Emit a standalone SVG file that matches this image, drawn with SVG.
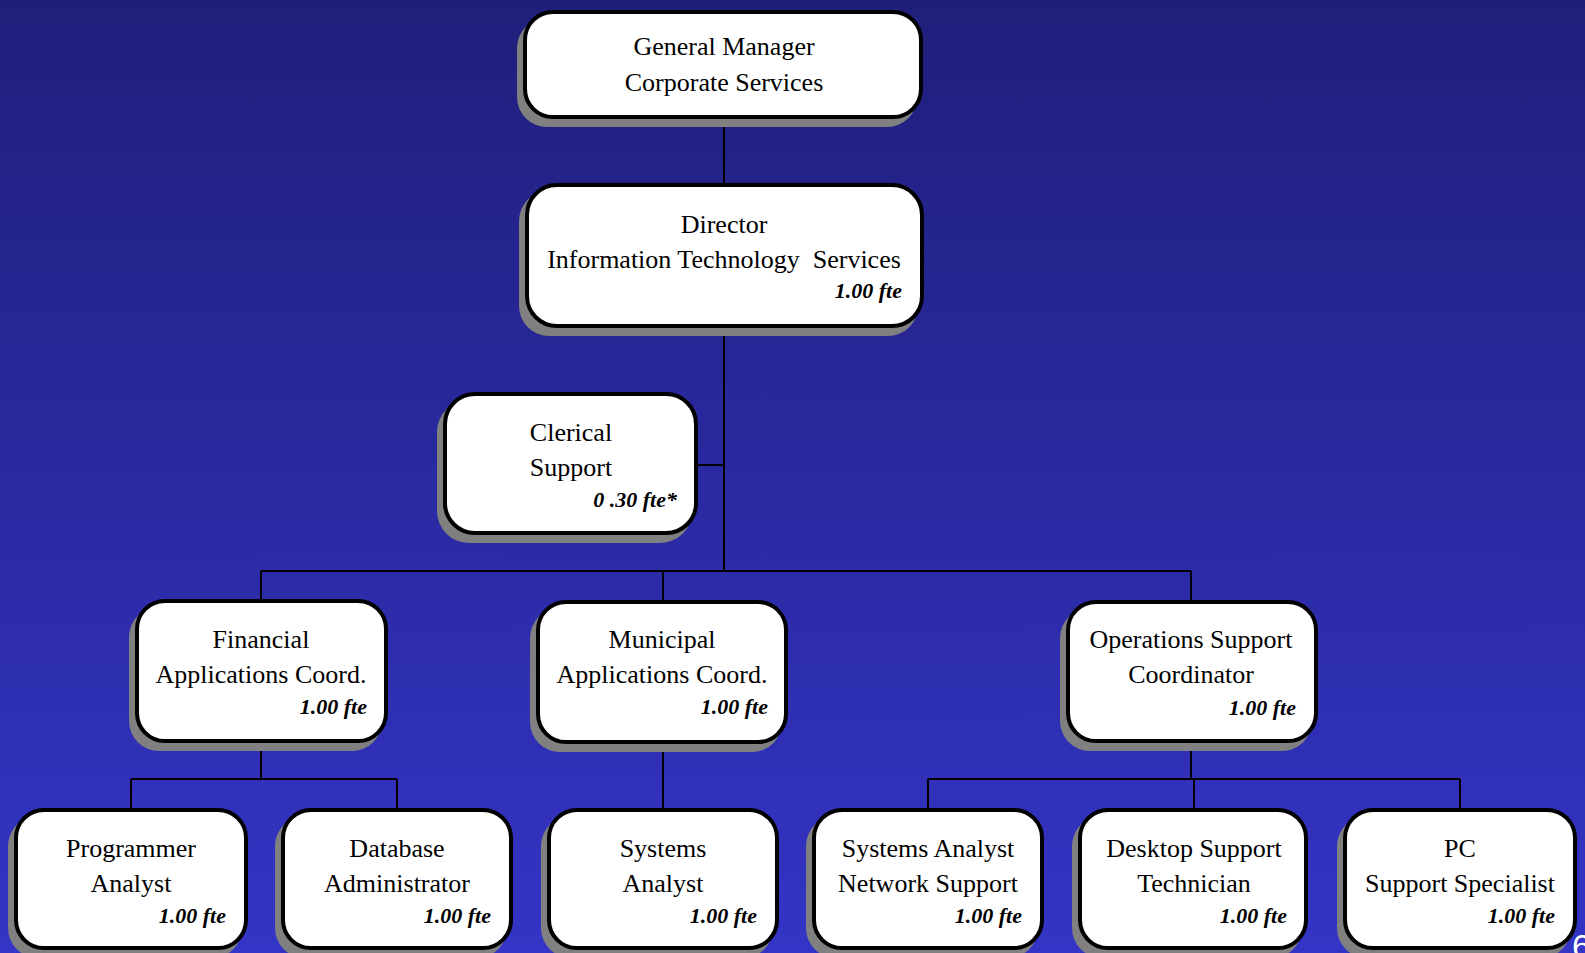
<svg xmlns="http://www.w3.org/2000/svg" width="1585" height="953" viewBox="0 0 1585 953">
<defs>
<linearGradient id="bg" x1="0" y1="0" x2="0" y2="1">
<stop offset="0" stop-color="#1f1f7b"/>
<stop offset="1" stop-color="#3434c6"/>
</linearGradient>
<style>
.sh{fill:#808080;}
.bx{fill:#ffffff;stroke:#000000;stroke-width:4;}
.t{font-family:"Liberation Serif","Times New Roman",serif;font-size:26px;fill:#000;text-anchor:middle;}
.f{font-family:"Liberation Serif","Times New Roman",serif;font-size:22px;font-weight:bold;font-style:italic;fill:#000;text-anchor:end;}
.c{stroke:#000;stroke-width:2;fill:none;}
</style>
</defs>
<rect x="0" y="0" width="1585" height="953" fill="url(#bg)"/>

<g id="connectors">
<path class="c" d="M724 119V183"/>
<path class="c" d="M724 328V571"/>
<path class="c" d="M698 465H724"/>
<path class="c" d="M261 571H1191"/>
<path class="c" d="M261 571V599M663 571V600M1191 571V600"/>
<path class="c" d="M261 743V779M131 779H397M131 779V808M397 779V808"/>
<path class="c" d="M663 744V808"/>
<path class="c" d="M1191 743V779M928 779H1460M928 779V808M1194 779V808M1460 779V808"/>
</g>

<g id="gm">
<rect class="sh" x="517" y="18" width="400" height="109" rx="30"/>
<rect class="bx" x="525" y="12" width="396" height="105" rx="28"/>
<text class="t" x="724" y="55">General Manager</text>
<text class="t" x="724" y="91">Corporate Services</text>
</g>

<g id="director">
<rect class="sh" x="519" y="191" width="399" height="145" rx="30"/>
<rect class="bx" x="527" y="185" width="395" height="141" rx="30"/>
<text class="t" x="724" y="233">Director</text>
<text class="t" x="724" y="268" xml:space="preserve">Information Technology  Services</text>
<text class="f" x="902" y="298">1.00 fte</text>
</g>

<g id="clerical">
<rect class="sh" x="437" y="400" width="255" height="143" rx="32"/>
<rect class="bx" x="445" y="394" width="251" height="139" rx="30"/>
<text class="t" x="571" y="441">Clerical</text>
<text class="t" x="571" y="476">Support</text>
<text class="f" x="677" y="507">0 .30 fte*</text>
</g>

<g id="financial">
<rect class="sh" x="129" y="607" width="253" height="144" rx="30"/>
<rect class="bx" x="137" y="601" width="249" height="140" rx="28"/>
<text class="t" x="261" y="648">Financial</text>
<text class="t" x="261" y="683">Applications Coord.</text>
<text class="f" x="367" y="714">1.00 fte</text>
</g>

<g id="municipal">
<rect class="sh" x="530" y="608" width="252" height="144" rx="30"/>
<rect class="bx" x="538" y="602" width="248" height="140" rx="28"/>
<text class="t" x="662" y="648">Municipal</text>
<text class="t" x="662" y="683">Applications Coord.</text>
<text class="f" x="768" y="714">1.00 fte</text>
</g>

<g id="operations">
<rect class="sh" x="1060" y="608" width="252" height="143" rx="30"/>
<rect class="bx" x="1068" y="602" width="248" height="139" rx="28"/>
<text class="t" x="1191" y="648">Operations Support</text>
<text class="t" x="1191" y="683">Coordinator</text>
<text class="f" x="1296" y="715">1.00 fte</text>
</g>

<g id="programmer">
<rect class="sh" x="8" y="816" width="234" height="142" rx="30"/>
<rect class="bx" x="16" y="810" width="230" height="138" rx="28"/>
<text class="t" x="131" y="857">Programmer</text>
<text class="t" x="131" y="892">Analyst</text>
<text class="f" x="226" y="923">1.00 fte</text>
</g>

<g id="database">
<rect class="sh" x="275" y="816" width="232" height="142" rx="30"/>
<rect class="bx" x="283" y="810" width="228" height="138" rx="28"/>
<text class="t" x="397" y="857">Database</text>
<text class="t" x="397" y="892">Administrator</text>
<text class="f" x="491" y="923">1.00 fte</text>
</g>

<g id="systems-analyst">
<rect class="sh" x="541" y="816" width="232" height="142" rx="30"/>
<rect class="bx" x="549" y="810" width="228" height="138" rx="28"/>
<text class="t" x="663" y="857">Systems</text>
<text class="t" x="663" y="892">Analyst</text>
<text class="f" x="757" y="923">1.00 fte</text>
</g>

<g id="network">
<rect class="sh" x="806" y="816" width="232" height="142" rx="30"/>
<rect class="bx" x="814" y="810" width="228" height="138" rx="28"/>
<text class="t" x="928" y="857">Systems Analyst</text>
<text class="t" x="928" y="892">Network Support</text>
<text class="f" x="1022" y="923">1.00 fte</text>
</g>

<g id="desktop">
<rect class="sh" x="1072" y="816" width="230" height="142" rx="30"/>
<rect class="bx" x="1080" y="810" width="226" height="138" rx="28"/>
<text class="t" x="1194" y="857">Desktop Support</text>
<text class="t" x="1194" y="892">Technician</text>
<text class="f" x="1287" y="923">1.00 fte</text>
</g>

<g id="pc">
<rect class="sh" x="1337" y="816" width="234" height="142" rx="30"/>
<rect class="bx" x="1345" y="810" width="230" height="138" rx="28"/>
<text class="t" x="1460" y="857">PC</text>
<text class="t" x="1460" y="892">Support Specialist</text>
<text class="f" x="1555" y="923">1.00 fte</text>
</g>

<text x="1572" y="958" font-family="Liberation Sans, Arial, sans-serif" font-size="34" fill="#ffffff">6</text>
</svg>
